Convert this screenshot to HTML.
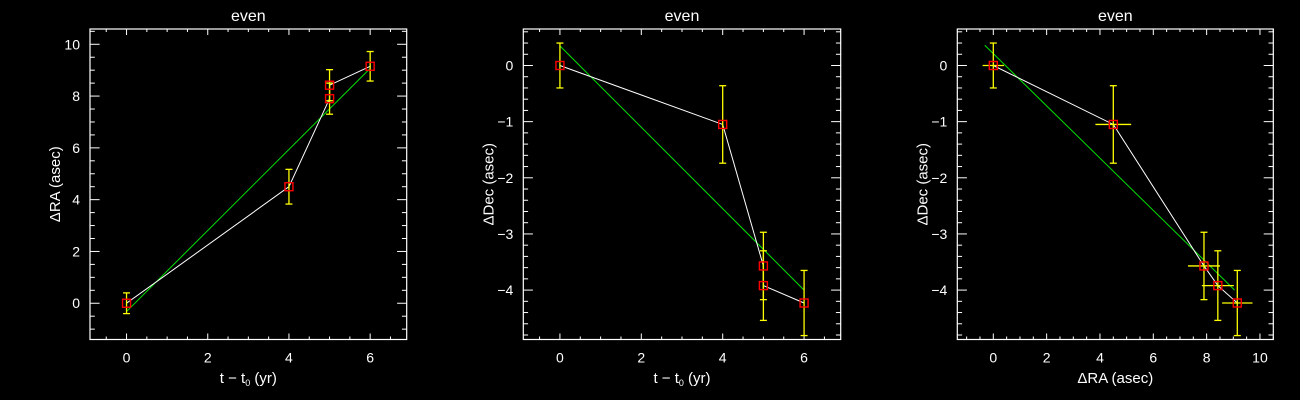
<!DOCTYPE html>
<html><head><meta charset="utf-8"><style>
html,body{margin:0;padding:0;background:#000;}
svg{display:block;font-family:"Liberation Sans",sans-serif;}
</style></head><body>
<svg id="chart" width="1300" height="400" viewBox="0 0 1300 400" xmlns="http://www.w3.org/2000/svg"></svg>
<script>
// Data
const tYears = [0, 4, 5, 5, 6];
const dRA = [0, 4.5, 7.9, 8.42, 9.15];
const dRAErr = [0.4, 0.67, 0.6, 0.6, 0.57];
const dDec = [0, -1.05, -3.57, -3.92, -4.23];
const dDecErr = [0.4, 0.69, 0.6, 0.62, 0.58];
const fitRAvsT = [[0, -0.32], [6, 9.07]];
const fitDecVsT = [[0, 0.35], [6, -4.0]];
const fitDecVsRA = [[-0.32, 0.36], [9.05, -4.0]];
const orderP1 = [0, 1, 2, 3, 4];
const orderP2 = [0, 1, 2, 3, 4];
const ticks1X = [0, 2, 4, 6];
const ticks1Y = [0, 2, 4, 6, 8, 10];
const ticksDecY = [0, -1, -2, -3, -4];
const ticks3X = [0, 2, 4, 6, 8, 10];

const NS = "http://www.w3.org/2000/svg";
const svg = document.getElementById('chart');
function mk(tag, attrs, parent) {
  const e = document.createElementNS(NS, tag);
  for (const k in attrs) e.setAttribute(k, attrs[k]);
  (parent || svg).appendChild(e);
  return e;
}

function panel(cfg) {
  const g = mk('g', {});
  
  
  const {x0, x1, y0, y1, xmin, xmax, ymin, ymax} = cfg;
  const sx = v => x0 + (v - xmin) / (xmax - xmin) * (x1 - x0);
  const sy = v => y1 - (v - ymin) / (ymax - ymin) * (y1 - y0);
  const box = mk('rect', {x: x0, y: y0, width: x1 - x0, height: y1 - y0, fill: 'none', stroke: '#fff', 'stroke-width': 1.2}, g);
  
  
  const majL = 6, minL = 3;
  for (let v = Math.ceil(xmin / cfg.xMinor) * cfg.xMinor; v <= xmax + 1e-9; v += cfg.xMinor) {
    const isMaj = cfg.xTicks.some(t => Math.abs(t - v) < 1e-6);
    const L = isMaj ? majL : minL, X = sx(v);
    mk('line', {x1: X, x2: X, y1: y1, y2: y1 - L, stroke: '#fff'}, g);
    mk('line', {x1: X, x2: X, y1: y0, y2: y0 + L, stroke: '#fff'}, g);
  }
  for (let v = Math.ceil(ymin / cfg.yMinor) * cfg.yMinor; v <= ymax + 1e-9; v += cfg.yMinor) {
    const isMaj = cfg.yTicks.some(t => Math.abs(t - v) < 1e-6);
    const L = isMaj ? majL * 1.6 : minL * 1.6, Y = sy(v);
    mk('line', {x1: x0, x2: x0 + L, y1: Y, y2: Y, stroke: '#fff'}, g);
    mk('line', {x1: x1, x2: x1 - L, y1: Y, y2: Y, stroke: '#fff'}, g);
  }
  cfg.xTicks.forEach(t => {
    const tx = mk('text', {x: sx(t), y: y1 + 23, fill: '#fff', 'font-size': 14, 'text-anchor': 'middle'}, g);
    
    
    tx.textContent = String(t).replace('-', '\u2212');
  });
  cfg.yTicks.forEach(t => {
    const tx = mk('text', {x: x0 - 10, y: sy(t) + 5, fill: '#fff', 'font-size': 14, 'text-anchor': 'end'}, g);
    
    
    tx.textContent = String(t).replace('-', '\u2212');
  });
  const title = mk('text', {x: (x0 + x1) / 2, y: 21, fill: '#fff', 'font-size': 16, 'text-anchor': 'middle'}, g);
  
  
  title.textContent = 'even';
  const xt = mk('text', {x: (x0 + x1) / 2, y: 383, fill: '#fff', 'font-size': 15, 'text-anchor': 'middle'}, g);
  
  
  xt.innerHTML = cfg.xTitle;
  const yc = (y0 + y1) / 2, yx = x0 - 30;
  const yt = mk('text', {x: yx, y: yc, fill: '#fff', 'font-size': 15, 'text-anchor': 'middle', transform: `rotate(-90 ${yx} ${yc})`}, g);
  
  
  yt.textContent = cfg.yTitle;
  const f = cfg.fit;
  const fl = mk('line', {x1: sx(f[0][0]), y1: sy(f[0][1]), x2: sx(f[1][0]), y2: sy(f[1][1]), stroke: '#00e000', 'stroke-width': 1}, g);
  
  
  const pts = cfg.order.map(i => sx(cfg.xs[i]) + ',' + sy(cfg.ys[i])).join(' ');
  const pl = mk('polyline', {points: pts, fill: 'none', stroke: '#fff', 'stroke-width': 1}, g);
  
  
  cfg.xs.forEach((xv, i) => {
    const X = sx(xv), Y = sy(cfg.ys[i]);
    const e = cfg.yerr[i];
    const eb = mk('g', {stroke: '#ffff00', 'stroke-width': 1.3}, g);
    
    
    mk('line', {x1: X, x2: X, y1: sy(cfg.ys[i] + e), y2: sy(cfg.ys[i] - e)}, eb);
    if (cfg.xerr) {
      const ex = cfg.xerr[i];
      mk('line', {x1: sx(xv - ex), x2: sx(xv + ex), y1: Y, y2: Y}, eb);
    }
    mk('line', {x1: X - 3.5, x2: X + 3.5, y1: sy(cfg.ys[i] + e), y2: sy(cfg.ys[i] + e)}, eb);
    mk('line', {x1: X - 3.5, x2: X + 3.5, y1: sy(cfg.ys[i] - e), y2: sy(cfg.ys[i] - e)}, eb);
  });
  cfg.xs.forEach((xv, i) => {
    const m = mk('rect', {x: sx(xv) - 4, y: sy(cfg.ys[i]) - 4, width: 8, height: 8, fill: 'none', stroke: '#ff0000', 'stroke-width': 1.4}, g);
    
    
  });
}

const tTitle = 't \u2212 t<tspan font-size="9" dy="3">0</tspan><tspan dy="-3"> (yr)</tspan>';
panel({name: 'panel-ra-vs-time', x0: 90, x1: 406.7, y0: 29, y1: 339.5, xmin: -0.9, xmax: 6.9, ymin: -1.4, ymax: 10.59,
  xTicks: ticks1X, yTicks: ticks1Y, xMinor: 0.5, yMinor: 0.5, xs: tYears, ys: dRA, yerr: dRAErr,
  fit: fitRAvsT, order: orderP1, xTitle: tTitle, yTitle: '\u0394RA (asec)'});
panel({name: 'panel-dec-vs-time', x0: 523.3, x1: 840.7, y0: 29, y1: 339.5, xmin: -0.9, xmax: 6.9, ymin: -4.88, ymax: 0.65,
  xTicks: ticks1X, yTicks: ticksDecY, xMinor: 0.5, yMinor: 0.2, xs: tYears, ys: dDec, yerr: dDecErr,
  fit: fitDecVsT, order: orderP2, xTitle: tTitle, yTitle: '\u0394Dec (asec)'});
panel({name: 'panel-dec-vs-ra', x0: 957.3, x1: 1273.3, y0: 29, y1: 339.5, xmin: -1.35, xmax: 10.5, ymin: -4.88, ymax: 0.65,
  xTicks: ticks3X, yTicks: ticksDecY, xMinor: 0.5, yMinor: 0.2, xs: dRA, ys: dDec, yerr: dDecErr, xerr: dRAErr,
  fit: fitDecVsRA, order: orderP2, xTitle: '\u0394RA (asec)', yTitle: '\u0394Dec (asec)'});
</script>
</body></html>
